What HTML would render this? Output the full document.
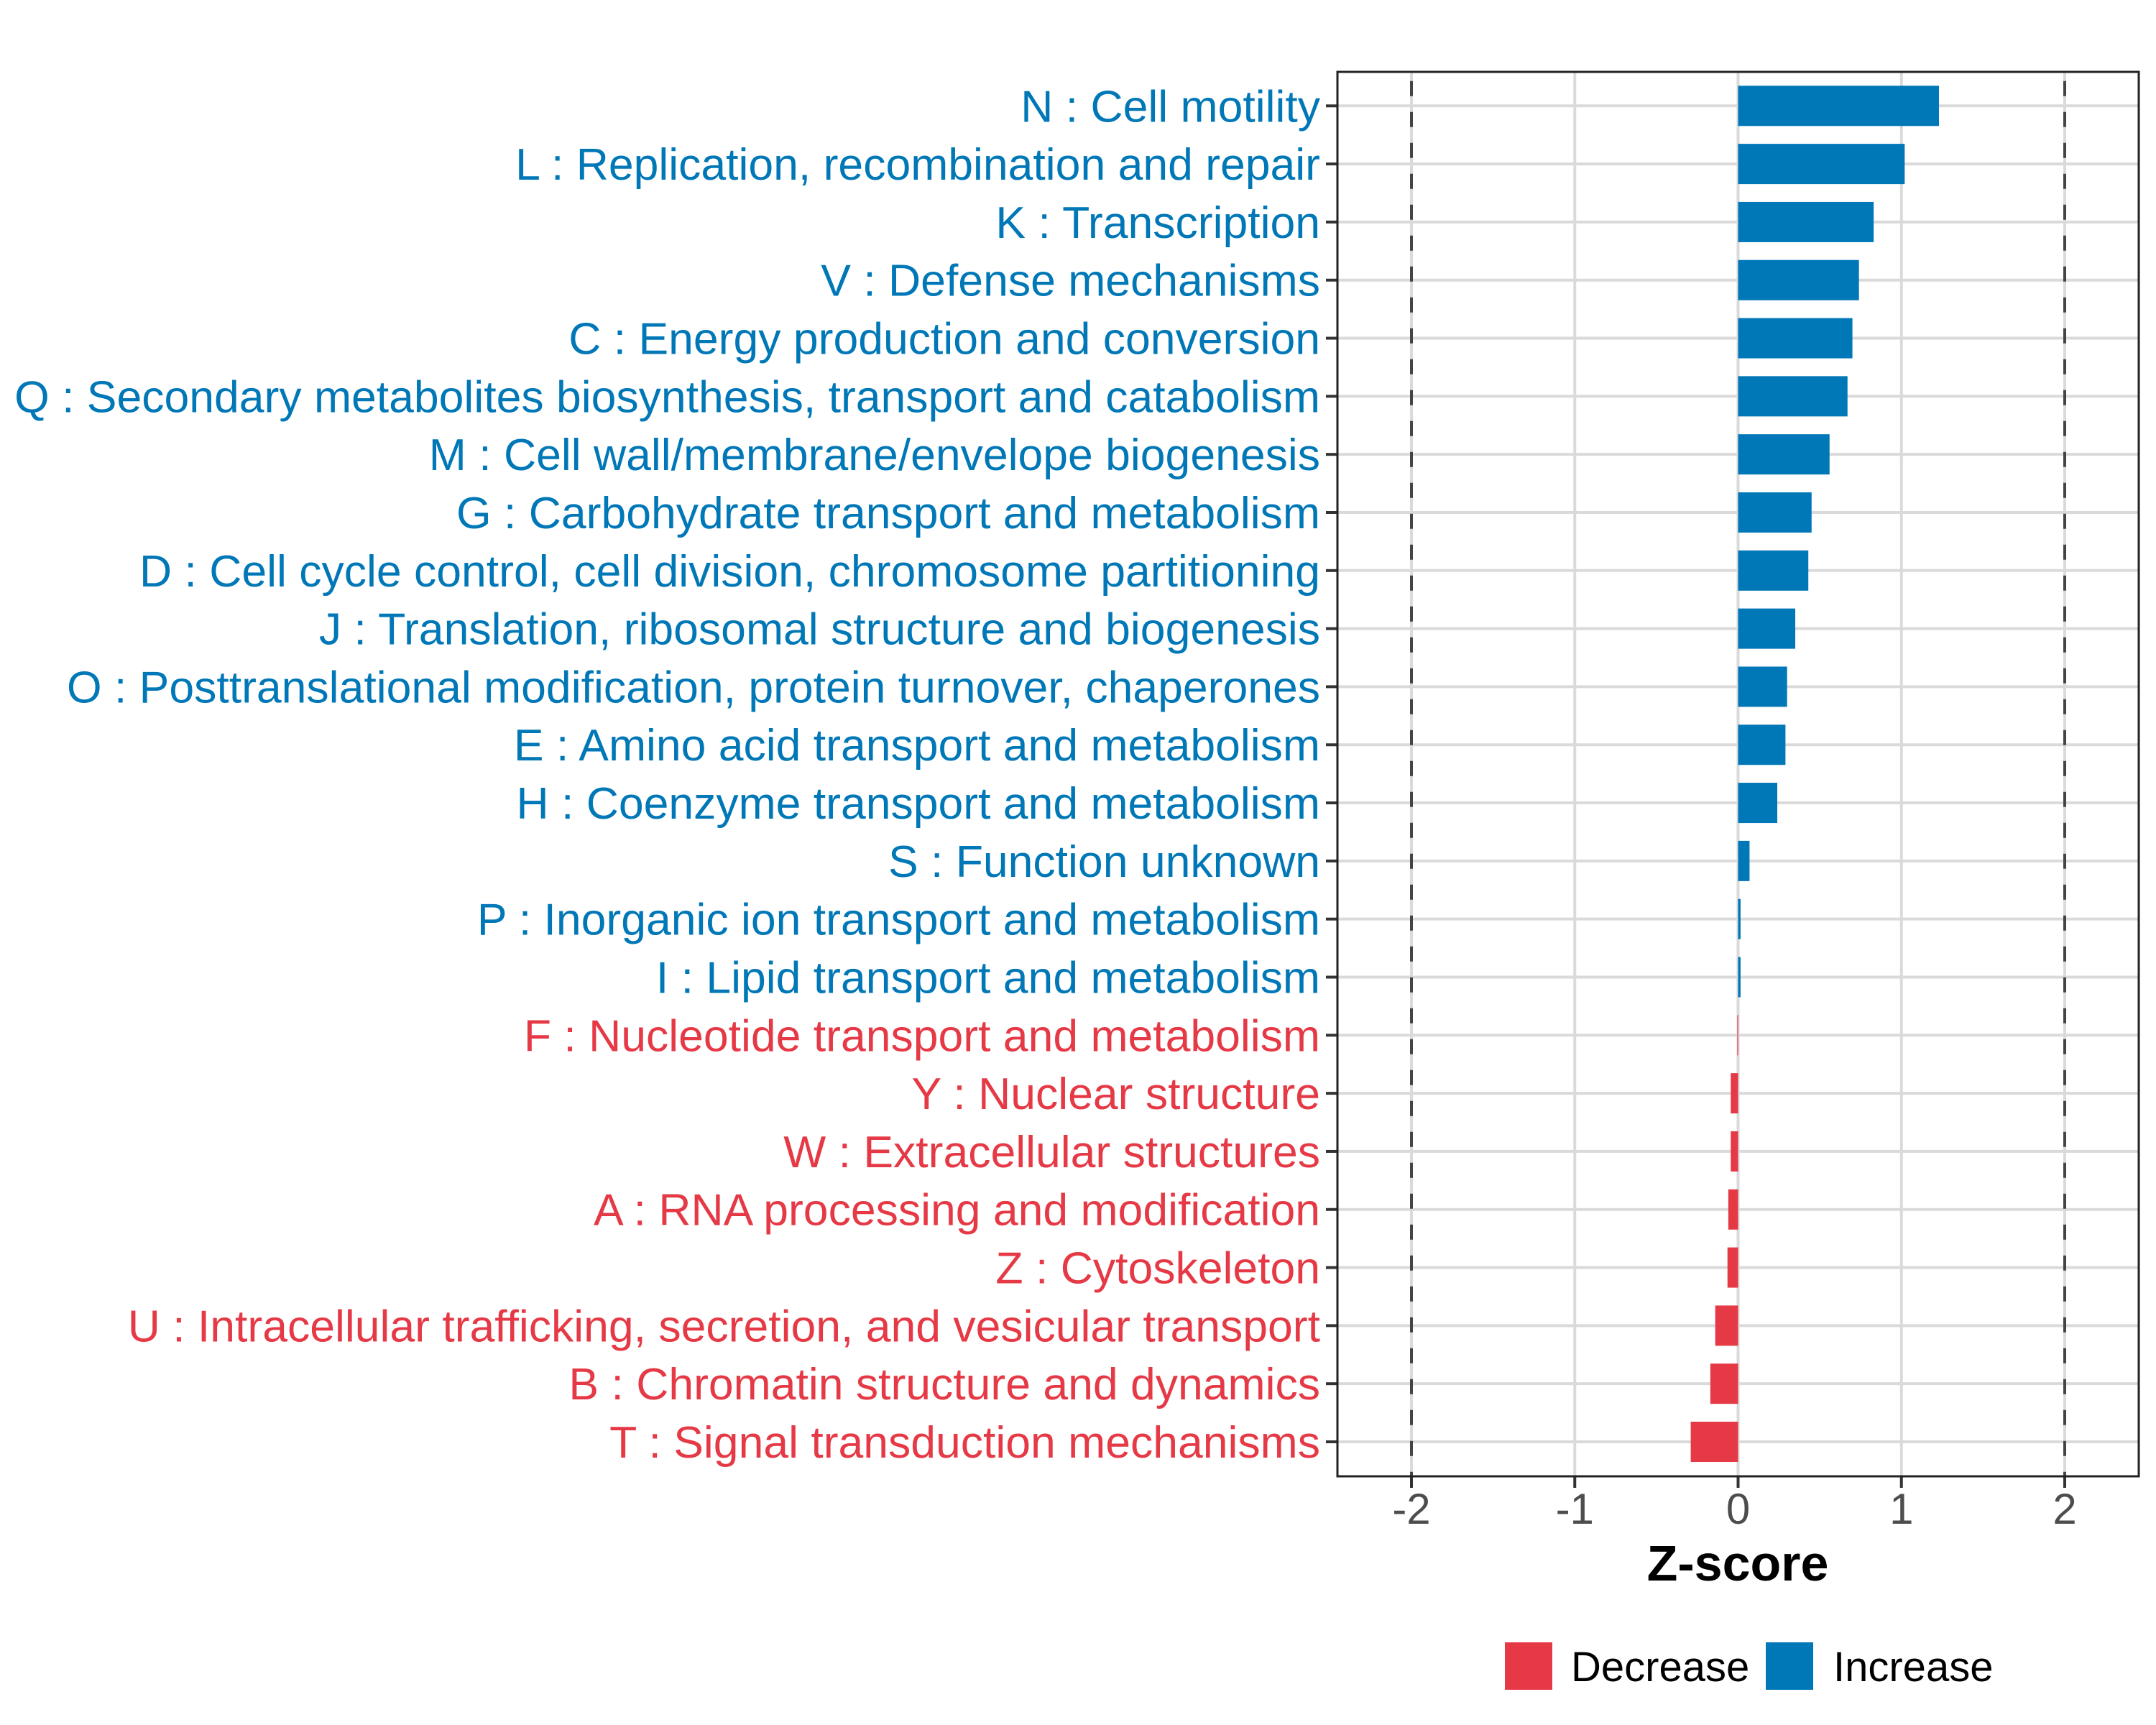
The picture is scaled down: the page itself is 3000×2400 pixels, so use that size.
<!DOCTYPE html>
<html><head><meta charset="utf-8"><style>body{margin:0;background:#fff}svg{display:block}</style></head>
<body>
<svg id="chart" width="3000" height="2400" xmlns="http://www.w3.org/2000/svg" font-family="Liberation Sans, sans-serif">
<rect x="0" y="0" width="3000" height="2400" fill="#fff"/>
<g id="grid"></g><g id="bars"></g><g id="ylabels"></g><g id="xaxis"></g>
<rect x="1861" y="100" width="1115" height="1954" fill="none" stroke="#222" stroke-width="3"/>
<text x="2418" y="2199" text-anchor="middle" font-size="70" font-weight="bold" fill="#000">Z-score</text>
<g>
<rect x="2094" y="2285" width="66" height="66" fill="#E63946"/>
<text x="2186" y="2339" font-size="58" fill="#000">Decrease</text>
<rect x="2457" y="2285" width="66" height="66" fill="#0077B6"/>
<text x="2551" y="2339" font-size="58" fill="#000">Increase</text>
</g>
</svg>
<script>
const categories=["N : Cell motility","L : Replication, recombination and repair","K : Transcription","V : Defense mechanisms","C : Energy production and conversion","Q : Secondary metabolites biosynthesis, transport and catabolism","M : Cell wall/membrane/envelope biogenesis","G : Carbohydrate transport and metabolism","D : Cell cycle control, cell division, chromosome partitioning","J : Translation, ribosomal structure and biogenesis","O : Posttranslational modification, protein turnover, chaperones","E : Amino acid transport and metabolism","H : Coenzyme transport and metabolism","S : Function unknown","P : Inorganic ion transport and metabolism","I : Lipid transport and metabolism","F : Nucleotide transport and metabolism","Y : Nuclear structure","W : Extracellular structures","A : RNA processing and modification","Z : Cytoskeleton","U : Intracellular trafficking, secretion, and vesicular transport","B : Chromatin structure and dynamics","T : Signal transduction mechanisms"];
const zscores=[1.23,1.02,0.83,0.74,0.70,0.67,0.56,0.45,0.43,0.35,0.30,0.29,0.24,0.07,0.015,0.015,-0.005,-0.045,-0.045,-0.06,-0.065,-0.14,-0.17,-0.29];
const xTicks=[-2,-1,0,1,2];
const xTickLabels=["-2","-1","0","1","2"];
const thresholds=[-2,2];
const NS="http://www.w3.org/2000/svg";
const X0=2418.5,UNIT=227.25,Y0=147.3,STEP=(2006-147.3)/23,BH=56,PL=1861,PR=2976,PT=100,PB=2054;
const x=v=>X0+v*UNIT, y=i=>Y0+i*STEP;
function mk(t,a,p){const e=document.createElementNS(NS,t);for(const k in a)e.setAttribute(k,a[k]);p.appendChild(e);return e;}
const grid=document.getElementById('grid'),bars=document.getElementById('bars'),yl=document.getElementById('ylabels'),xa=document.getElementById('xaxis');
xTicks.forEach((t,i)=>{
 const g=mk('line',{x1:x(t),x2:x(t),y1:PT,y2:PB,stroke:'#dadada','stroke-width':4},grid);
 
 
 const tk=mk('line',{x1:x(t),x2:x(t),y1:PB,y2:PB+16,stroke:'#333','stroke-width':4},xa);
 
 
 const tl=mk('text',{x:x(t),y:2120,'text-anchor':'middle','font-size':60,fill:'#4d4d4d'},xa);
 
 
 tl.textContent=xTickLabels[i];
});
categories.forEach((c,i)=>{
 const g=mk('line',{x1:PL,x2:PR,y1:y(i),y2:y(i),stroke:'#dadada','stroke-width':4},grid);
 
 
});
thresholds.forEach(t=>{
 const d=mk('line',{x1:x(t),x2:x(t),y1:PT,y2:PB,stroke:'#444','stroke-width':4,'stroke-dasharray':'21,22','stroke-dashoffset':'30.3'},grid);
 
 
});
categories.forEach((c,i)=>{
 const v=zscores[i],col=v>=0?'#0077B6':'#E63946';
 const r=mk('rect',{x:Math.min(x(0),x(v)),y:y(i)-BH/2,width:Math.max(Math.abs(x(v)-x(0)),1),height:BH,fill:col},bars);
 
 
 const tk=mk('line',{x1:PL-16,x2:PL,y1:y(i),y2:y(i),stroke:'#333','stroke-width':4},yl);
 
 
 const t=mk('text',{x:1837,y:y(i)+22,'text-anchor':'end','font-size':62.5,fill:col},yl);
 
 
 t.textContent=c;
});
</script>
</body></html>
